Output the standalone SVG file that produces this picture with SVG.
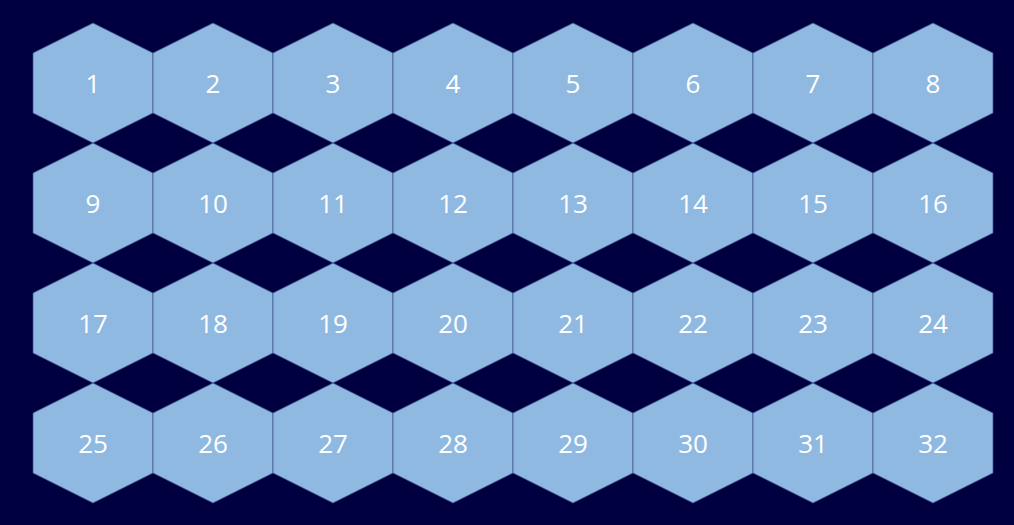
<svg xmlns="http://www.w3.org/2000/svg" xmlns:xlink="http://www.w3.org/1999/xlink" width="1014" height="525" viewBox="0 0 1014 525">
<style>
.hex{fill:#8fb9e1;stroke:#3d4f90;stroke-width:0.7}
.lbl{fill:#ffffff;font-family:"Open Sans","Noto Sans","Liberation Sans",sans-serif;font-size:26px;text-anchor:middle}
</style>
<defs>
<polygon id="h" class="hex" points="0,-60 60,-30 60,30 0,60 -60,30 -60,-30"/>
</defs>
<rect width="1014" height="525" fill="#000040"/>
<g id="connectors"/>
<g id="n1" transform="translate(93,83)"><use xlink:href="#h" href="#h"/><text class="lbl" y="10">1</text></g>
<g id="n2" transform="translate(213,83)"><use xlink:href="#h" href="#h"/><text class="lbl" y="10">2</text></g>
<g id="n3" transform="translate(333,83)"><use xlink:href="#h" href="#h"/><text class="lbl" y="10">3</text></g>
<g id="n4" transform="translate(453,83)"><use xlink:href="#h" href="#h"/><text class="lbl" y="10">4</text></g>
<g id="n5" transform="translate(573,83)"><use xlink:href="#h" href="#h"/><text class="lbl" y="10">5</text></g>
<g id="n6" transform="translate(693,83)"><use xlink:href="#h" href="#h"/><text class="lbl" y="10">6</text></g>
<g id="n7" transform="translate(813,83)"><use xlink:href="#h" href="#h"/><text class="lbl" y="10">7</text></g>
<g id="n8" transform="translate(933,83)"><use xlink:href="#h" href="#h"/><text class="lbl" y="10">8</text></g>
<g id="n9" transform="translate(93,203)"><use xlink:href="#h" href="#h"/><text class="lbl" y="10">9</text></g>
<g id="n10" transform="translate(213,203)"><use xlink:href="#h" href="#h"/><text class="lbl" y="10">10</text></g>
<g id="n11" transform="translate(333,203)"><use xlink:href="#h" href="#h"/><text class="lbl" y="10">11</text></g>
<g id="n12" transform="translate(453,203)"><use xlink:href="#h" href="#h"/><text class="lbl" y="10">12</text></g>
<g id="n13" transform="translate(573,203)"><use xlink:href="#h" href="#h"/><text class="lbl" y="10">13</text></g>
<g id="n14" transform="translate(693,203)"><use xlink:href="#h" href="#h"/><text class="lbl" y="10">14</text></g>
<g id="n15" transform="translate(813,203)"><use xlink:href="#h" href="#h"/><text class="lbl" y="10">15</text></g>
<g id="n16" transform="translate(933,203)"><use xlink:href="#h" href="#h"/><text class="lbl" y="10">16</text></g>
<g id="n17" transform="translate(93,323)"><use xlink:href="#h" href="#h"/><text class="lbl" y="10">17</text></g>
<g id="n18" transform="translate(213,323)"><use xlink:href="#h" href="#h"/><text class="lbl" y="10">18</text></g>
<g id="n19" transform="translate(333,323)"><use xlink:href="#h" href="#h"/><text class="lbl" y="10">19</text></g>
<g id="n20" transform="translate(453,323)"><use xlink:href="#h" href="#h"/><text class="lbl" y="10">20</text></g>
<g id="n21" transform="translate(573,323)"><use xlink:href="#h" href="#h"/><text class="lbl" y="10">21</text></g>
<g id="n22" transform="translate(693,323)"><use xlink:href="#h" href="#h"/><text class="lbl" y="10">22</text></g>
<g id="n23" transform="translate(813,323)"><use xlink:href="#h" href="#h"/><text class="lbl" y="10">23</text></g>
<g id="n24" transform="translate(933,323)"><use xlink:href="#h" href="#h"/><text class="lbl" y="10">24</text></g>
<g id="n25" transform="translate(93,443)"><use xlink:href="#h" href="#h"/><text class="lbl" y="10">25</text></g>
<g id="n26" transform="translate(213,443)"><use xlink:href="#h" href="#h"/><text class="lbl" y="10">26</text></g>
<g id="n27" transform="translate(333,443)"><use xlink:href="#h" href="#h"/><text class="lbl" y="10">27</text></g>
<g id="n28" transform="translate(453,443)"><use xlink:href="#h" href="#h"/><text class="lbl" y="10">28</text></g>
<g id="n29" transform="translate(573,443)"><use xlink:href="#h" href="#h"/><text class="lbl" y="10">29</text></g>
<g id="n30" transform="translate(693,443)"><use xlink:href="#h" href="#h"/><text class="lbl" y="10">30</text></g>
<g id="n31" transform="translate(813,443)"><use xlink:href="#h" href="#h"/><text class="lbl" y="10">31</text></g>
<g id="n32" transform="translate(933,443)"><use xlink:href="#h" href="#h"/><text class="lbl" y="10">32</text></g>
</svg>
